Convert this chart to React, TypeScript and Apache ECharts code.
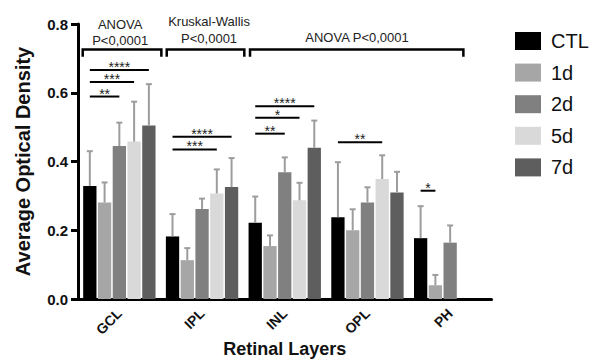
import React, { useEffect, useRef } from 'react';
import * as echarts from 'echarts';

const FONT = '"Liberation Sans", Arial, Helvetica, sans-serif';

const categories = ['GCL', 'IPL', 'INL', 'OPL', 'PH'];
const seriesNames = ['CTL', '1d', '2d', '5d', '7d'];
const seriesColors = ['#000000', '#a6a6a6', '#808080', '#d9d9d9', '#5e5e5e'];

const ctlMean = [0.329, 0.182, 0.222, 0.238, 0.177];
const ctlErrTop = [0.43, 0.247, 0.298, 0.398, 0.27];
const d1Mean = [0.281, 0.113, 0.154, 0.2, 0.04];
const d1ErrTop = [0.339, 0.148, 0.185, 0.261, 0.07];
const d2Mean = [0.445, 0.262, 0.369, 0.281, 0.164];
const d2ErrTop = [0.513, 0.292, 0.412, 0.325, 0.214];
const d5Mean = [0.458, 0.307, 0.287, 0.349, null];
const d5ErrTop = [0.574, 0.377, 0.338, 0.418, null];
const d7Mean = [0.505, 0.326, 0.44, 0.31, null];
const d7ErrTop = [0.625, 0.41, 0.519, 0.37, null];

const yTicks = [0, 0.2, 0.4, 0.6, 0.8];

// significance: [category index, from series, to series, line value]
const sigComparisons = [
  [0, 0, 2, 0.589], [0, 0, 3, 0.631], [0, 0, 4, 0.666],
  [1, 0, 3, 0.435], [1, 0, 4, 0.472],
  [2, 0, 2, 0.481], [2, 0, 3, 0.527], [2, 0, 4, 0.561],
  [3, 0, 3, 0.456],
  [4, 0, 1, 0.315],
];
const sigStars = ['**', '***', '****', '***', '****', '**', '*', '****', '**', '*'];

// brackets: [start (category units), end (category units), top value, leg value]
const brackets = [
  [-0.443, 0.508, 0.726, 0.705],
  [0.573, 1.511, 0.726, 0.705],
  [1.58, 4.16, 0.726, 0.705],
];
// bracket labels: [x (category units), value]
const bracketLabelPos = [
  [0.01, 0.8], [0.01, 0.753],
  [1.085, 0.806], [1.085, 0.758],
  [2.874, 0.761],
];
const bracketLabelText = ['ANOVA', 'P<0,0001', 'Kruskal-Wallis', 'P<0,0001', 'ANOVA P<0,0001'];

const means = [ctlMean, d1Mean, d2Mean, d5Mean, d7Mean];
const errTops = [ctlErrTop, d1ErrTop, d2ErrTop, d5ErrTop, d7ErrTop];

const BAR_W = 13.3;
const BAR_GAP = 0.11;
const STEP = BAR_W * (1 + BAR_GAP);

export default function App() {
  const ref = useRef<HTMLDivElement>(null);
  useEffect(() => {
    if (!ref.current) return;
    const chart = echarts.init(ref.current, null, { renderer: 'svg' });

    const errData: number[][] = [];
    means.forEach((arr, s) => {
      arr.forEach((v, g) => {
        const e = errTops[s][g];
        if (v != null && e != null) errData.push([g, v, e, s]);
      });
    });

    const barSeries = seriesNames.map((name, s) => ({
      name,
      type: 'bar',
      data: means[s],
      barWidth: BAR_W,
      barGap: `${BAR_GAP * 100}%`,
      itemStyle: { color: seriesColors[s] },
    }));

    const option: any = {
      animation: false,
      backgroundColor: '#ffffff',
      textStyle: { fontFamily: FONT },
      grid: { left: 78, right: 98.5, top: 24, bottom: 60, containLabel: false, outerBoundsMode: 'none' },
      legend: {
        data: seriesNames,
        orient: 'vertical',
        left: 515,
        top: 31,
        padding: 0,
        itemWidth: 26,
        itemHeight: 18,
        itemGap: 11.6,
        icon: 'rect',
        textStyle: { fontSize: 20, color: '#111', fontFamily: FONT, padding: [0, 0, 0, 5] },
      },
      xAxis: {
        type: 'category',
        data: categories,
        axisLine: { lineStyle: { color: '#000', width: 3 } },
        axisTick: { alignWithLabel: true, length: 6, lineStyle: { color: '#000', width: 3 } },
        axisLabel: { show: false },
        name: 'Retinal Layers',
        nameLocation: 'middle',
        nameGap: 41,
        nameTextStyle: { fontSize: 18, fontWeight: 'bold', color: '#111', fontFamily: FONT },
      },
      yAxis: {
        type: 'value',
        min: yTicks[0],
        max: yTicks[yTicks.length - 1],
        interval: yTicks[1] - yTicks[0],
        name: 'Average Optical Density',
        nameLocation: 'middle',
        nameGap: 45,
        nameTextStyle: { fontSize: 20, fontWeight: 'bold', color: '#111', fontFamily: FONT },
        axisLine: { show: true, lineStyle: { color: '#000', width: 3 } },
        axisTick: { show: true, length: 7, lineStyle: { color: '#000', width: 3 } },
        axisLabel: { formatter: (v: number) => v.toFixed(1), fontSize: 15, fontWeight: 'bold', color: '#111', margin: 10, fontFamily: FONT },
        splitLine: { show: false },
      },
      series: [
        ...barSeries,
        {
          name: 'errors',
          type: 'custom',
          clip: false,
          data: errData,
          encode: { x: 0, y: 1 },
          z: 3,
          renderItem: (params: any, api: any) => {
            const g = api.value(0);
            const v = api.value(1);
            const e = api.value(2);
            const s = api.value(3);
            const base = api.coord([g, v]);
            const top = api.coord([g, e]);
            const x = base[0] + (s - 2) * STEP;
            const st = { stroke: '#9d9d9d', lineWidth: 2 };
            return {
              type: 'group',
              children: [
                { type: 'line', shape: { x1: x, y1: base[1], x2: x, y2: top[1] }, style: st },
                { type: 'line', shape: { x1: x - 3, y1: top[1], x2: x + 3, y2: top[1] }, style: st },
              ],
            };
          },
        },
        {
          name: 'significance',
          type: 'custom',
          clip: false,
          data: sigComparisons.map((d) => [d[0], d[3], d[1], d[2]]),
          encode: { x: 0, y: 1 },
          z: 4,
          renderItem: (params: any, api: any) => {
            const g = api.value(0);
            const y = api.value(1);
            const from = api.value(2);
            const to = api.value(3);
            const c = api.coord([g, y]);
            const x1 = c[0] + (from - 2) * STEP;
            const x2 = c[0] + (to - 2) * STEP;
            return {
              type: 'group',
              children: [
                { type: 'line', shape: { x1, y1: c[1], x2, y2: c[1] }, style: { stroke: '#000', lineWidth: 2 } },
                {
                  type: 'text',
                  style: {
                    text: sigStars[params.dataIndex],
                    x: (x1 + x2) / 2,
                    y: c[1] - 3,
                    align: 'center',
                    verticalAlign: 'middle',
                    fontSize: 14,
                    lineHeight: 8,
                    fontFamily: FONT,
                    fill: '#222',
                  },
                },
              ],
            };
          },
        },
        {
          name: 'brackets',
          type: 'custom',
          clip: false,
          data: brackets.map((b) => [0, b[2], b[0], b[1], b[3]]),
          encode: { x: 0, y: 1 },
          z: 4,
          renderItem: (params: any, api: any) => {
            const top = api.coord([0, api.value(1)]);
            const leg = api.coord([0, api.value(4)]);
            const band = api.size([1, 0])[0];
            const xs = top[0] + api.value(2) * band;
            const xe = top[0] + api.value(3) * band;
            return {
              type: 'polyline',
              shape: { points: [[xs, leg[1]], [xs, top[1]], [xe, top[1]], [xe, leg[1]]] },
              style: { stroke: '#000', lineWidth: 2.5, fill: null },
            };
          },
        },
        {
          name: 'bracketLabels',
          type: 'custom',
          clip: false,
          data: bracketLabelPos.map((p) => [0, p[1], p[0]]),
          encode: { x: 0, y: 1 },
          z: 4,
          renderItem: (params: any, api: any) => {
            const c = api.coord([0, api.value(1)]);
            const band = api.size([1, 0])[0];
            return {
              type: 'text',
              style: {
                text: bracketLabelText[params.dataIndex],
                x: c[0] + api.value(2) * band,
                y: c[1],
                align: 'center',
                verticalAlign: 'middle',
                fontSize: 13,
                fontFamily: FONT,
                fill: '#222',
              },
            };
          },
        },
      ],
    };

    chart.setOption(option);

    // rotated category labels, anchored at the axis ticks computed by the chart's own scales
    const labelGraphics = categories.map((cat) => {
      const p = chart.convertToPixel({ gridIndex: 0 }, [cat, yTicks[0]]) as number[];
      return {
        type: 'text',
        x: p[0],
        y: p[1] + 12,
        rotation: Math.PI / 4,
        style: {
          text: cat,
          align: 'right',
          verticalAlign: 'middle',
          fontSize: 14,
          fontWeight: 'bold',
          fontFamily: FONT,
          fill: '#111',
        },
      };
    });
    chart.setOption({ graphic: labelGraphics });

    return () => chart.dispose();
  }, []);

  return (
    <div
      ref={ref}
      style={{ position: 'absolute', left: 0, top: 0, width: 590, height: 359, background: '#fff' }}
    />
  );
}
